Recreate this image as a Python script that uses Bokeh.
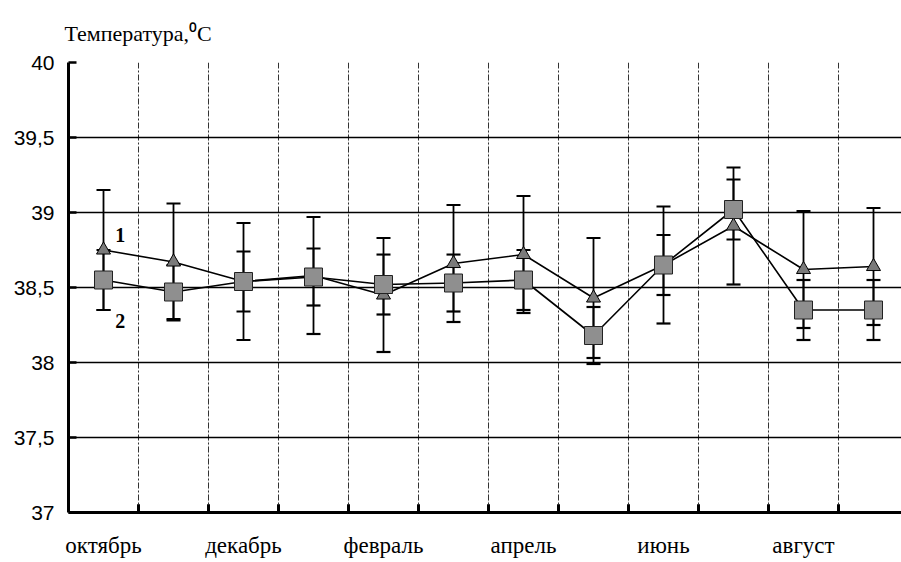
from bokeh.plotting import figure
from bokeh.models import (Range1d, LinearAxis, FixedTicker, ColumnDataSource, Whisker,
                          TeeHead, Label, Grid, Title)
from bokeh.embed import file_html
from bokeh.resources import INLINE

# ---- data ----
months = ["октябрь", "ноябрь", "декабрь", "январь", "февраль", "март",
          "апрель", "май", "июнь", "июль", "август", "сентябрь"]
series1 = [38.75, 38.67, 38.54, 38.58, 38.45, 38.66, 38.72, 38.43, 38.65, 38.91, 38.62, 38.64]
err1 = [0.40, 0.39, 0.39, 0.39, 0.38, 0.39, 0.39, 0.40, 0.39, 0.39, 0.39, 0.39]
series2 = [38.55, 38.47, 38.54, 38.57, 38.52, 38.53, 38.55, 38.18, 38.65, 39.02, 38.35, 38.35]
err2 = [0.20, 0.18, 0.20, 0.19, 0.20, 0.19, 0.20, 0.19, 0.20, 0.20, 0.20, 0.20]
y_ticks = [37.0, 37.5, 38.0, 38.5, 39.0, 39.5, 40.0]
y_tick_labels = ["37", "37,5", "38", "38,5", "39", "39,5", "40"]
series_names = ["1", "2"]
series_label_pos = [(0.74, 38.85), (0.74, 38.28)]
title_text = "Температура,\u2070C"

x = [i + 0.5 for i in range(len(months))]
bounds = list(range(1, len(months)))

p = figure(width=901, height=562, output_backend="svg", toolbar_location=None,
           x_range=Range1d(0, 11.9), y_range=Range1d(37, 40),
           x_axis_location=None, y_axis_location=None,
           min_border_left=68, min_border_right=0, min_border_top=62, min_border_bottom=50)
p.outline_line_color = None
p.background_fill_color = "white"
p.border_fill_color = "white"

p.title = Title(text=title_text, text_font="Liberation Serif", text_font_size="22px",
                text_font_style="normal", text_color="black", offset=-4, standoff=33)

# y axis
yaxis = LinearAxis(ticker=FixedTicker(ticks=y_ticks),
                   major_label_overrides={t: l for t, l in zip(y_ticks, y_tick_labels)},
                   major_tick_in=8, major_tick_out=0, major_tick_line_width=2.5,
                   minor_tick_line_color=None, axis_line_width=3,
                   major_label_text_font="Liberation Sans", major_label_text_font_size="21px",
                   major_label_standoff=14, major_label_text_color="black")
p.add_layout(yaxis, "left")

# x axis with month labels at category centres
label_ticks = x[::2]
label_axis = LinearAxis(ticker=FixedTicker(ticks=label_ticks),
                        major_label_overrides={t: m for t, m in zip(label_ticks, months[::2])},
                        major_tick_line_color=None, minor_tick_line_color=None,
                        axis_line_width=3, major_label_standoff=14,
                        major_label_text_font="Liberation Serif",
                        major_label_text_font_size="23px", major_label_text_color="black")
p.add_layout(label_axis, "below")

# grids
vgrid = Grid(dimension=0, ticker=FixedTicker(ticks=bounds), grid_line_color="#333333",
             grid_line_width=1, grid_line_dash="6 2 2 2")
hgrid = Grid(dimension=1, ticker=FixedTicker(ticks=y_ticks[1:]), grid_line_color="black",
             grid_line_width=1.6)
p.add_layout(vgrid)
p.add_layout(hgrid)

# inner tick marks on the x axis at month boundaries
p.segment(x0=bounds, x1=bounds, y0=[37.0] * len(bounds), y1=[37.055] * len(bounds),
          line_color="black", line_width=3)

src = ColumnDataSource(dict(
    x=x, s1=series1, s2=series2,
    u1=[v + e for v, e in zip(series1, err1)], l1=[v - e for v, e in zip(series1, err1)],
    u2=[v + e for v, e in zip(series2, err2)], l2=[v - e for v, e in zip(series2, err2)],
))

for u, l in (("u1", "l1"), ("u2", "l2")):
    w = Whisker(base="x", upper=u, lower=l, source=src, dimension="height",
                line_color="black", line_width=1.8,
                upper_head=TeeHead(size=14, line_width=2.2, line_color="black"),
                lower_head=TeeHead(size=14, line_width=2.2, line_color="black"))
    p.add_layout(w)

p.line("x", "s1", source=src, line_color="black", line_width=1.6)
p.line("x", "s2", source=src, line_color="black", line_width=1.6)
p.scatter("x", "s1", source=src, marker="triangle", size=14, fill_color="#7a7a7a",
          line_color="black", line_width=1)
p.scatter("x", "s2", source=src, marker="square", size=18, fill_color="#8f8f8f",
          line_color="#222222", line_width=1)

for name, (lx, ly) in zip(series_names, series_label_pos):
    p.add_layout(Label(x=lx, y=ly, text=name, text_font="Liberation Serif",
                       text_font_size="20px", text_font_style="bold",
                       text_align="center", text_baseline="middle", text_color="black"))

open("out.html", "w").write(file_html(p, INLINE))
